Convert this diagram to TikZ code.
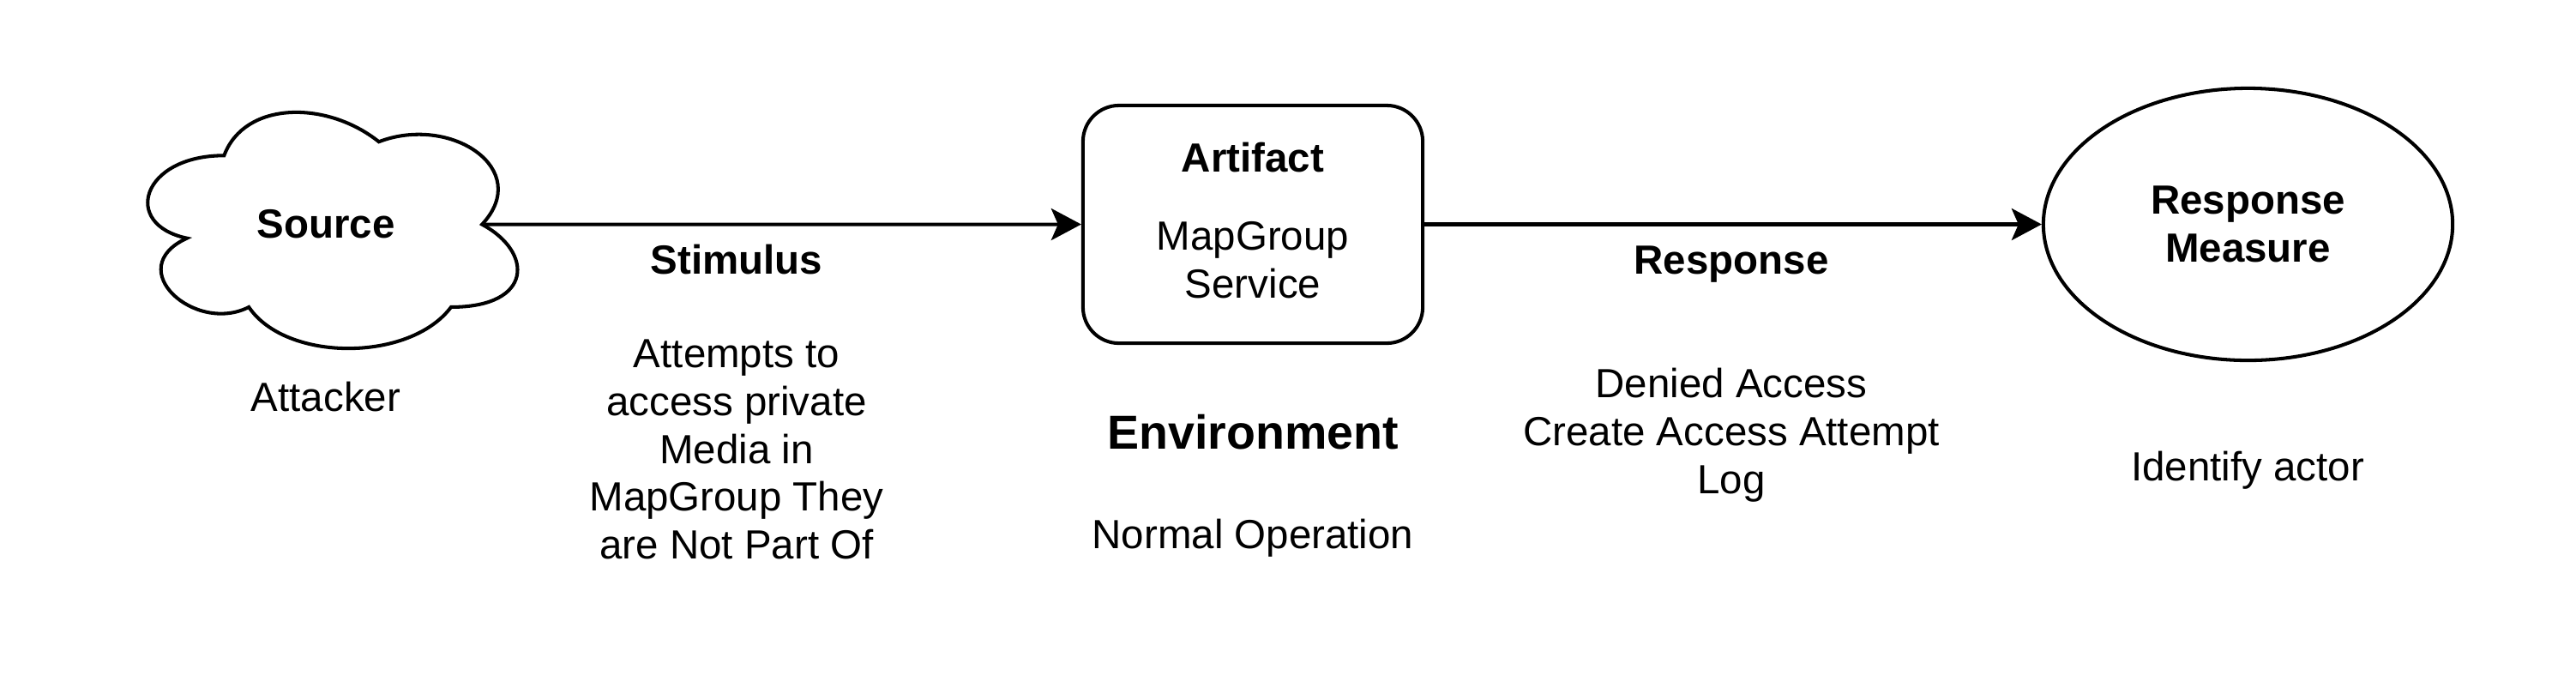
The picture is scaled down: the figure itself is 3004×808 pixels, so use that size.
\documentclass[tikz,border=0pt]{standalone}
\usepackage{fontspec}
\setmainfont{Liberation Sans}
\usetikzlibrary{arrows.meta,shapes.geometric}

\tikzset{
  txt/.style={align=center,inner sep=0pt,font=\fontsize{13.5pt}{16pt}\selectfont},
  hd/.style={align=center,inner sep=0pt,font=\fontsize{13.5pt}{16pt}\selectfont\bfseries},
  shp/.style={draw=black,line width=1.15pt},
  flow/.style={draw=black,line width=1.15pt,-{Stealth[length=0.35cm,width=0.37cm,inset=0.08cm]}}
}

\begin{document}
\begin{tikzpicture}[x=0.01cm,y=-0.01cm]

\fill[white] (0,0) rectangle (3004,808);
\useasboundingbox (0,0) rectangle (3004,808);

\begin{scope}[shift={(141,101)},x=4.81cm,y=-3.21cm]
\draw[shp] (0.25,0.25) .. controls (0.05,0.25) and (0,0.5) .. (0.16,0.55)
  .. controls (0,0.66) and (0.18,0.9) .. (0.31,0.8)
  .. controls (0.4,1) and (0.7,1) .. (0.8,0.8)
  .. controls (1,0.8) and (1,0.6) .. (0.875,0.5)
  .. controls (1,0.3) and (0.8,0.1) .. (0.625,0.2)
  .. controls (0.5,0.05) and (0.3,0.05) .. cycle;
\coordinate (srcout) at (0.875,0.5);
\end{scope}

\node[hd] (src) at (380, 261) {Source};
\node[txt] (atk) at (380, 463) {Attacker};

\node[shp,rectangle,rounded corners=0.42cm,minimum width=3.96cm,minimum height=2.77cm,inner sep=0pt,align=center,font=\fontsize{13.5pt}{16pt}\selectfont] (art) at (1461, 261.5) {\textbf{Artifact}\\[0.346cm]MapGroup\\Service\rule[-0.1cm]{0pt}{0pt}};

\node[shp,ellipse,minimum width=4.77cm,minimum height=3.17cm,inner sep=0pt,align=center,font=\fontsize{13.5pt}{16pt}\selectfont\bfseries] (meas) at (2621.5, 261.5) {Response\\Measure};

\path[flow] (srcout) -- (art);
\path[flow] (art) -- (meas);

\node[hd] (stim) at (859, 303) {Stimulus};
\node[txt,font=\fontsize{13.5pt}{15.8pt}\selectfont] (stiminfo) at (859, 524) {Attempts to\\access private\\Media in\\MapGroup They\\are Not Part Of};

\node[hd,font=\fontsize{15.8pt}{19pt}\selectfont\bfseries] (env) at (1461, 504) {Environment};
\node[txt] (envinfo) at (1461, 627) {Normal Operation};

\node[hd] (resp) at (2019, 308) {Response};
\node[txt] (respinfo) at (2019, 507) {Denied Access\\Create Access Attempt\\Log};

\node[txt] (measinfo) at (2621, 548) {Identify actor};
\end{tikzpicture}
\end{document}
